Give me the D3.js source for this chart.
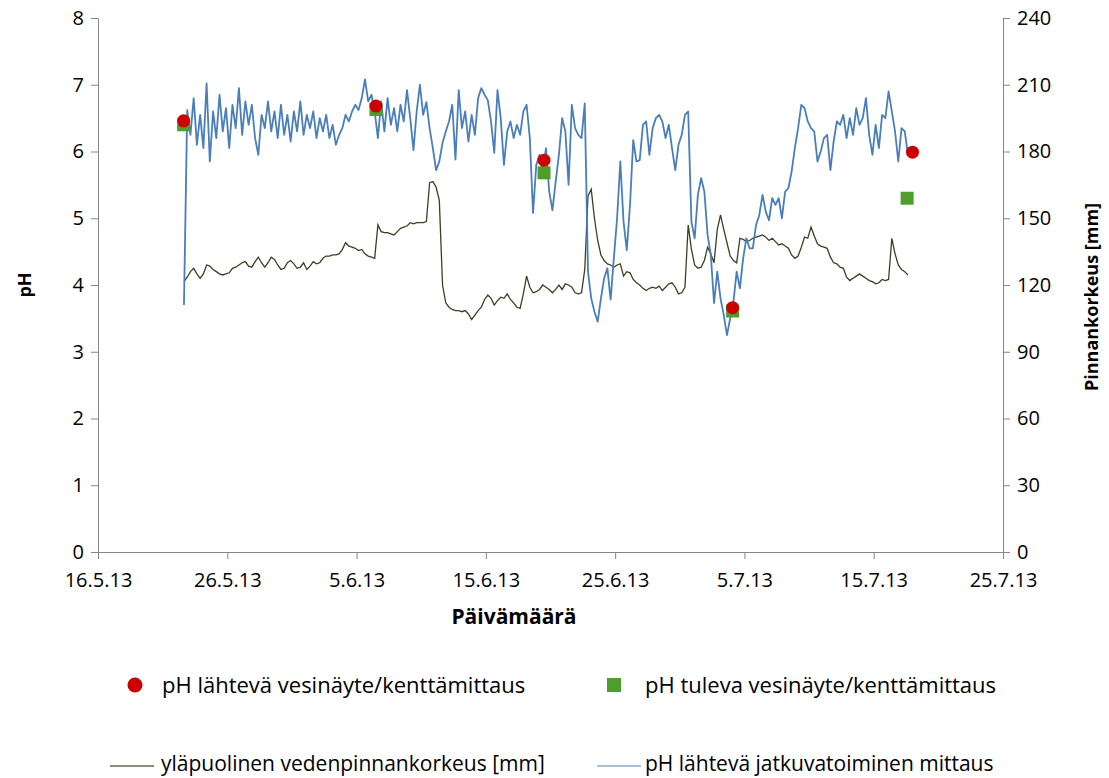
<!DOCTYPE html>
<html>
<head>
<meta charset="utf-8">
<script src="https://cdn.jsdelivr.net/npm/d3@7"></script>
<style>
  body { margin: 0; background: #fff; }
  text { font-family: "Open Sans", "DejaVu Sans", sans-serif; fill: #000; }
</style>
</head>
<body>
<svg id="chart" width="1109" height="778"></svg>
<script>
// time axis ticks
var tickDates = ["2013-05-16", "2013-05-26", "2013-06-05", "2013-06-15",
                 "2013-06-25", "2013-07-05", "2013-07-15", "2013-07-25"];
var phTicks = [0, 1, 2, 3, 4, 5, 6, 7, 8];
var mmTicks = [0, 30, 60, 90, 120, 150, 180, 210, 240];

// continuous logger: first sample and interval (hours)
var loggerStart = "2013-05-22T15:36";
var loggerStepHours = 6;

// pH lähtevä jatkuvatoiminen mittaus
var phContinuous = [
  3.70, 6.62, 6.25, 6.80, 6.10, 6.55, 6.05, 7.02, 5.85, 6.60,
  6.20, 6.85, 6.30, 6.65, 6.05, 6.70, 6.35, 6.95, 6.25, 6.75,
  6.40, 6.70, 6.20, 5.95, 6.55, 6.35, 6.75, 6.30, 6.60, 6.20,
  6.70, 6.25, 6.55, 6.15, 6.60, 6.30, 6.75, 6.25, 6.55, 6.35,
  6.60, 6.20, 6.50, 6.30, 6.55, 6.20, 6.40, 6.10, 6.25, 6.35,
  6.55, 6.45, 6.60, 6.70, 6.62, 6.80, 7.08, 6.75, 6.85, 6.60,
  6.20, 6.75, 6.30, 6.80, 6.40, 6.65, 6.30, 6.70, 6.45, 6.92,
  6.50, 6.02, 6.60, 7.00, 6.55, 6.74, 6.35, 6.05, 5.72, 5.85,
  6.13, 6.30, 6.45, 6.70, 5.88, 6.92, 6.35, 6.60, 6.15, 6.55,
  6.25, 6.80, 6.95, 6.85, 6.77, 6.45, 5.98, 6.92, 6.50, 5.80,
  6.30, 6.45, 6.20, 6.40, 6.25, 6.60, 6.70, 6.20, 5.08, 5.80,
  5.95, 5.70, 6.05, 5.40, 5.12, 5.55, 5.95, 6.50, 6.30, 5.50,
  6.70, 6.35, 6.25, 6.20, 6.72, 4.20, 3.80, 3.60, 3.45, 3.80,
  4.10, 4.25, 3.78, 4.40, 5.00, 5.85, 4.95, 4.52, 5.20, 6.17,
  5.85, 5.87, 6.40, 6.45, 5.95, 6.35, 6.50, 6.55, 6.45, 6.20,
  6.40, 6.05, 5.72, 6.10, 6.25, 6.55, 6.60, 4.95, 4.70, 5.35,
  5.60, 5.40, 4.75, 4.45, 3.73, 4.20, 3.80, 3.55, 3.25, 3.50,
  3.75, 4.20, 3.95, 4.40, 4.70, 4.55, 4.55, 4.90, 5.05, 5.35,
  5.10, 4.97, 5.30, 5.20, 5.30, 5.00, 5.40, 5.45, 5.70, 6.05,
  6.35, 6.70, 6.65, 6.45, 6.35, 6.30, 5.85, 6.00, 6.20, 6.25,
  5.72, 6.15, 6.45, 6.40, 6.55, 6.20, 6.50, 6.25, 6.65, 6.40,
  6.50, 6.80, 6.25, 5.95, 6.40, 6.05, 6.55, 6.50, 6.90, 6.60,
  6.30, 5.85, 6.35, 6.30, 5.95
];

// yläpuolinen vedenpinnankorkeus [mm]
var waterLevel = [
  121.5, 123.5, 126.0, 127.5, 125.0, 123.0, 125.0, 129.0, 128.5, 127.0,
  126.0, 125.0, 124.5, 125.0, 125.5, 127.5, 128.0, 129.0, 130.0, 130.5,
  128.5, 128.0, 130.5, 132.5, 130.0, 128.0, 130.0, 132.5, 131.5, 129.0,
  127.0, 127.5, 130.0, 131.0, 129.5, 127.5, 128.0, 130.0, 127.0, 128.5,
  130.5, 129.5, 130.0, 132.0, 133.0, 133.0, 133.5, 133.5, 134.0, 136.0,
  139.0, 137.5, 137.0, 136.5, 135.5, 136.0, 134.0, 133.0, 132.5, 132.0,
  147.0, 144.0, 143.5, 143.5, 143.0, 142.5, 144.0, 145.5, 146.0, 146.5,
  148.0, 147.5, 148.0, 148.0, 148.0, 148.5, 166.0, 166.5, 164.0, 158.0,
  120.0, 112.0, 110.0, 109.0, 108.5, 108.5, 108.0, 108.5, 107.0, 104.5,
  106.5, 108.5, 110.0, 113.5, 115.5, 114.0, 111.0, 113.0, 114.5, 114.0,
  116.0, 113.5, 112.0, 110.0, 109.5, 116.0, 124.0, 119.0, 116.5, 117.0,
  118.0, 120.0, 119.0, 118.0, 116.5, 118.0, 120.0, 118.0, 120.5, 120.0,
  119.0, 116.5, 116.0, 116.5, 127.0, 160.0, 163.0, 150.0, 140.0, 133.5,
  131.0, 129.5, 129.0, 128.0, 129.0, 129.5, 124.0, 126.0, 125.5, 122.5,
  121.0, 120.0, 118.5, 117.5, 118.5, 119.0, 118.5, 119.5, 117.5, 119.0,
  120.5, 121.0, 119.0, 116.0, 116.5, 119.0, 147.0, 136.0, 129.0, 127.5,
  128.0, 131.0, 137.0, 134.0, 130.0, 145.0, 151.5, 145.0, 139.0, 133.0,
  131.0, 130.0, 141.0, 140.5, 139.5, 140.0, 141.0, 141.5, 142.0, 142.5,
  141.5, 140.0, 141.0, 139.5, 138.0, 138.5, 137.5, 136.5, 133.5, 132.0,
  133.0, 137.0, 141.5, 141.0, 146.0, 142.0, 138.5, 137.5, 137.0, 136.5,
  132.5, 130.0, 129.5, 128.0, 127.5, 123.5, 122.0, 123.0, 124.0, 125.0,
  124.0, 123.0, 122.0, 121.5, 120.5, 121.0, 122.5, 122.0, 122.5, 141.0,
  134.0, 129.0, 127.0, 126.0, 124.5
];

// field samples
var outgoingDates = ["2013-05-22T15:00", "2013-06-06T12:00", "2013-06-19T12:00",
                     "2013-07-04T02:00", "2013-07-18T00:00"];
var outgoingPH = [6.46, 6.68, 5.87, 3.66, 5.99];
var incomingDates = ["2013-05-22T15:00", "2013-06-06T12:00", "2013-06-19T12:00",
                     "2013-07-04T02:00", "2013-07-17T14:00"];
var incomingPH = [6.40, 6.63, 5.68, 3.61, 5.30];

var legendLabels = ["pH lähtevä vesinäyte/kenttämittaus", "pH tuleva vesinäyte/kenttämittaus",
                    "yläpuolinen vedenpinnankorkeus [mm]", "pH lähtevä jatkuvatoiminen mittaus"];

var parseDay = d3.timeParse("%Y-%m-%d");
var parseTime = d3.timeParse("%Y-%m-%dT%H:%M");
var fmt = d3.timeFormat("%-d.%-m.%y");

const marginLeft = 98, marginRight = 1003, marginTop = 18, marginBottom = 552;
const width = marginRight - marginLeft;
const height = marginBottom - marginTop;

var svg = d3.select("#chart");
var chart = svg.append("g").attr("transform", `translate(${marginLeft}, ${marginTop})`);

var ticks = tickDates.map(parseDay);
var xScale = d3.scaleTime().domain([ticks[0], ticks[ticks.length - 1]]).range([0, width]);
var yScale = d3.scaleLinear().domain([0, 8]).range([height, 0]);
var zScale = d3.scaleLinear().domain([0, 240]).range([height, 0]);

var t0 = parseTime(loggerStart);
function loggerTime(i) { return new Date(t0.getTime() + i * loggerStepHours * 3600000); }

var x_axis = d3.axisBottom(xScale).tickValues(ticks).tickFormat(fmt).tickSize(7).tickSizeOuter(0);
var y_axis = d3.axisLeft(yScale).tickValues(phTicks).tickSize(7).tickSizeOuter(0);
var z_axis = d3.axisRight(zScale).tickValues(mmTicks).tickSize(7).tickSizeOuter(0);

function styleAxis(g) {
    g.select(".domain").attr("stroke", "#868686");
    g.selectAll(".tick line").attr("stroke", "#868686");
    g.selectAll(".tick text").style("font-size", "20px").attr("fill", "#000")
        .style("font-family", "'Open Sans', 'DejaVu Sans', sans-serif");
}

chart.append("g").attr("transform", `translate(0, ${height})`).call(x_axis).call(styleAxis)
    .selectAll(".tick text").attr("y", 21);
chart.append("g").call(y_axis).call(styleAxis)
    .selectAll(".tick text").attr("x", -14);
chart.append("g").attr("transform", `translate(${width}, 0)`).call(z_axis).call(styleAxis)
    .selectAll(".tick text").attr("x", 14);

// lines
var levelLine = d3.line()
    .x(function(d, i) { return xScale(loggerTime(i)); })
    .y(function(d) { return zScale(d); });
var phLine = d3.line()
    .x(function(d, i) { return xScale(loggerTime(i)); })
    .y(function(d) { return yScale(d); });

chart.append("path")
    .attr("d", levelLine(waterLevel))
    .attr("fill", "none")
    .attr("stroke", "#3a4022")
    .attr("stroke-width", 1.3);

chart.append("path")
    .attr("d", phLine(phContinuous))
    .attr("fill", "none")
    .attr("stroke", "#4a7ebb")
    .attr("stroke-width", 1.8)
    .attr("stroke-linejoin", "round");

// field samples
chart.selectAll(".incoming")
    .data(incomingPH)
    .enter().append("rect")
    .attr("class", "incoming")
    .attr("x", function(d, i) { return xScale(parseTime(incomingDates[i])) - 6.5; })
    .attr("y", function(d) { return yScale(d) - 6.5; })
    .attr("width", 13)
    .attr("height", 13)
    .style("fill", "#4e9f2a");

chart.selectAll(".outgoing")
    .data(outgoingPH)
    .enter().append("circle")
    .attr("class", "outgoing")
    .attr("cx", function(d, i) { return xScale(parseTime(outgoingDates[i])); })
    .attr("cy", function(d) { return yScale(d); })
    .attr("r", 6.5)
    .style("fill", "#cc0000");

// axis titles
svg.append("text")
    .attr("text-anchor", "middle")
    .attr("transform", "translate(31, 285) rotate(-90)")
    .style("font-size", "18px").style("font-weight", "bold")
    .text("pH");
svg.append("text")
    .attr("text-anchor", "middle")
    .attr("transform", "translate(1098, 297) rotate(-90)")
    .style("font-size", "18px").style("font-weight", "bold")
    .text("Pinnankorkeus [mm]");
svg.append("text")
    .attr("text-anchor", "middle")
    .attr("x", 514).attr("y", 624)
    .style("font-size", "21px").style("font-weight", "bold")
    .text("Päivämäärä");

// legend
var legend = svg.append("g");
legend.append("circle").attr("cx", 135).attr("cy", 685).attr("r", 7.5).style("fill", "#cc0000");
legend.append("text").attr("x", 162).attr("y", 693).style("font-size", "22px").text(legendLabels[0]);
legend.append("rect").attr("x", 607).attr("y", 678).attr("width", 14).attr("height", 14).style("fill", "#4e9f2a");
legend.append("text").attr("x", 645).attr("y", 693).style("font-size", "22px").text(legendLabels[1]);
legend.append("line").attr("x1", 110).attr("x2", 154).attr("y1", 766).attr("y2", 766)
    .attr("stroke", "#8b8d76").attr("stroke-width", 2);
legend.append("text").attr("x", 161).attr("y", 771).style("font-size", "21px").text(legendLabels[2]);
legend.append("line").attr("x1", 597).attr("x2", 641).attr("y1", 766).attr("y2", 766)
    .attr("stroke", "#a9bfd8").attr("stroke-width", 2);
legend.append("text").attr("x", 645).attr("y", 771).style("font-size", "21px").text(legendLabels[3]);
</script>
</body>
</html>
